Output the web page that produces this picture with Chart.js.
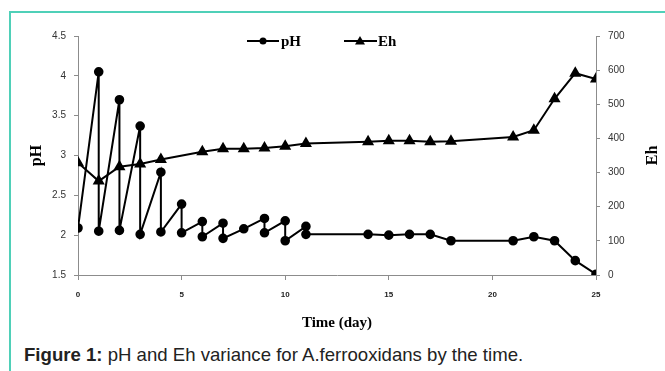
<!DOCTYPE html>
<html>
<head>
<meta charset="utf-8">
<script src="https://cdn.jsdelivr.net/npm/chart.js@4"></script>
<style>
    body { margin: 0; background: #fff; width: 665px; height: 371px; overflow: hidden; position: relative; }
    #frame { position: absolute; left: 9px; top: 11px; width: 660px; height: 370px; border-top: 2px solid #4fd0b8; border-left: 2px solid #4fd0b8; }
    #wrap { position: absolute; left: 0; top: 0; width: 665px; height: 340px; }
    #caption { position: absolute; left: 24px; top: 344px; font-family: "Liberation Sans", Arial, sans-serif; font-size: 18.6px; color: #222; white-space: nowrap; }
</style>
</head>
<body>
<div id="frame"></div>
<div id="wrap"><canvas id="chart" width="665" height="340"></canvas></div>
<div id="caption"><b>Figure 1:</b> pH and Eh variance for A.ferrooxidans by the time.</div>
<script>
// pH readings (some days have two readings, before and after adjustment)
const phDays = [0, 1, 1, 2, 2, 3, 3, 4, 4, 5, 5, 6, 6, 7, 7, 8, 9, 9, 10, 10, 11, 11, 14, 15, 16, 17, 18, 21, 22, 23, 24, 25];
const phValues = [2.09, 4.05, 2.05, 3.70, 2.06, 3.37, 2.01, 2.79, 2.04, 2.39, 2.03, 2.17, 1.98, 2.15, 1.96, 2.08, 2.21, 2.03, 2.18, 1.93, 2.11, 2.01, 2.01, 2.00, 2.01, 2.01, 1.93, 1.93, 1.98, 1.93, 1.68, 1.51];

// Eh readings
const ehDays = [0, 1, 2, 3, 4, 6, 7, 8, 9, 10, 11, 14, 15, 16, 17, 18, 21, 22, 23, 24, 25];
const ehValues = [329, 275, 317, 325, 338, 361, 370, 370, 372, 377, 385, 390, 393, 393, 390, 392, 404, 424, 516, 591, 574];

const xTicks = [0, 5, 10, 15, 20, 25];
const phTicks = [1.5, 2, 2.5, 3, 3.5, 4, 4.5];
const ehTicks = [0, 100, 200, 300, 400, 500, 600, 700];

const toPoints = (xs, ys) => xs.map((x, i) => ({ x: x, y: ys[i] }));

// titles + legend drawn on the canvas
const extras = {
    id: 'extras',
    afterDraw(chart) {
        const ctx = chart.ctx;
        const area = chart.chartArea;
        ctx.save();
        ctx.fillStyle = '#000';
        ctx.strokeStyle = '#000';
        ctx.textBaseline = 'middle';

        // axis titles
        ctx.font = 'bold 16px "Liberation Serif", serif';
        ctx.textAlign = 'center';
        const midY = (area.top + area.bottom) / 2;
        ctx.save();
        ctx.translate(37, midY);
        ctx.rotate(-Math.PI / 2);
        ctx.fillText('pH', 0, 0);
        ctx.restore();
        ctx.save();
        ctx.translate(653, midY);
        ctx.rotate(-Math.PI / 2);
        ctx.fillText('Eh', 0, 0);
        ctx.restore();

        ctx.font = 'bold 15px "Liberation Serif", serif';
        ctx.fillText('Time (day)', (area.left + area.right) / 2, 323);

        // legend
        const ly = 41;
        ctx.lineWidth = 2;
        ctx.font = 'bold 15px "Liberation Serif", serif';
        ctx.textAlign = 'left';
        ctx.beginPath(); ctx.moveTo(247, ly); ctx.lineTo(279, ly); ctx.stroke();
        ctx.beginPath(); ctx.arc(263, ly, 3.5, 0, Math.PI * 2); ctx.fill();
        ctx.fillText('pH', 281, ly + 1);

        ctx.beginPath(); ctx.moveTo(344, ly); ctx.lineTo(377, ly); ctx.stroke();
        ctx.beginPath(); ctx.moveTo(360, ly - 5); ctx.lineTo(365, ly + 3.5); ctx.lineTo(355, ly + 3.5); ctx.closePath(); ctx.fill();
        ctx.fillText('Eh', 378, ly + 1);
        ctx.restore();
    }
};

const axisGrid = { display: true, drawOnChartArea: false, color: '#8c8c8c', tickLength: 4 };
const axisBorder = { display: true, color: '#8c8c8c', width: 1 };

new Chart(document.getElementById('chart'), {
    type: 'line',
    data: {
        datasets: [{
            label: 'pH',
            data: toPoints(phDays, phValues),
            yAxisID: 'y',
            borderColor: '#000',
            backgroundColor: '#000',
            borderWidth: 2,
            pointStyle: 'circle',
            pointRadius: 3.8,
            tension: 0
        }, {
            label: 'Eh',
            data: toPoints(ehDays, ehValues),
            yAxisID: 'y1',
            borderColor: '#000',
            backgroundColor: '#000',
            borderWidth: 2,
            pointStyle: 'triangle',
            pointRadius: 5,
            tension: 0
        }]
    },
    options: {
        responsive: false,
        animation: false,
        devicePixelRatio: 1,
        layout: { padding: { top: 36, left: 0, right: 0, bottom: 0 } },
        plugins: {
            legend: { display: false },
            tooltip: { enabled: false }
        },
        scales: {
            x: {
                type: 'linear',
                min: 0,
                max: 25,
                afterFit: (s) => { s.height = 65; },
                afterBuildTicks: (s) => { s.ticks = xTicks.map(v => ({ value: v })); },
                grid: { display: true, drawOnChartArea: false, color: '#8c8c8c', tickLength: 5 },
                border: axisBorder,
                ticks: { color: '#222', padding: 10, maxRotation: 0, font: { family: 'Liberation Sans', size: 8, weight: 'bold' } }
            },
            y: {
                position: 'left',
                min: 1.5,
                max: 4.5,
                afterFit: (s) => { s.width = 78; },
                afterBuildTicks: (s) => { s.ticks = phTicks.map(v => ({ value: v })); },
                grid: axisGrid,
                border: axisBorder,
                ticks: { color: '#333', padding: 8, font: { family: 'Liberation Sans', size: 10 }, callback: (v) => String(v) }
            },
            y1: {
                position: 'right',
                min: 0,
                max: 700,
                afterFit: (s) => { s.width = 69; },
                afterBuildTicks: (s) => { s.ticks = ehTicks.map(v => ({ value: v })); },
                grid: axisGrid,
                border: axisBorder,
                ticks: { color: '#333', padding: 8, font: { family: 'Liberation Sans', size: 10 }, callback: (v) => String(v) }
            }
        }
    },
    plugins: [extras]
});
</script>
</body>
</html>
